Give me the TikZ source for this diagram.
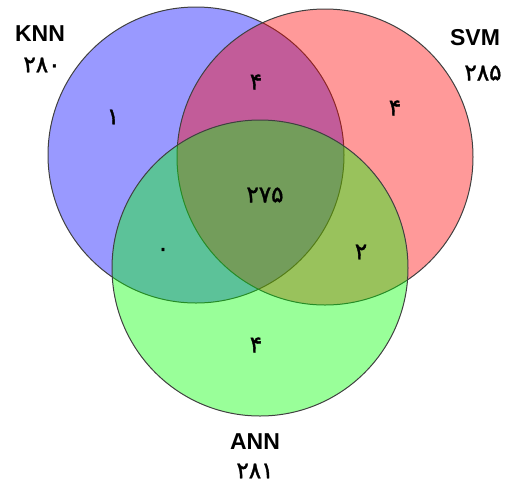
\documentclass[tikz,border=0pt]{standalone}
\usepackage{fontspec}
\setmainfont{Liberation Sans}
\newfontfamily\digitfont[FakeBold=1.6]{DejaVu Sans}
\begin{document}
\begin{tikzpicture}[x=1pt,y=-1pt,
  setcircle/.style={draw=black!75, line width=1pt, fill opacity=0.4, draw opacity=1},
  setname/.style={font=\fontsize{23}{23}\selectfont\bfseries, inner sep=0pt},
  setcount/.style={font=\digitfont\fontsize{23}{23}\selectfont, inner sep=0pt},
  regioncount/.style={font=\digitfont\fontsize{23}{23}\selectfont, inner sep=0pt}]
\useasboundingbox (0,0) rectangle (506,483);
\filldraw[setcircle, fill=blue] (196,155) circle (148);
\filldraw[setcircle, fill=red] (325,157) circle (148);
\filldraw[setcircle, fill=green] (260,268) circle (148);
\node[setname] (knn) at (40,34) {KNN};
\node[setcount] (knnc) at (42,65) {۲۸۰};
\node[setname] (svm) at (475,38) {SVM};
\node[setcount] (svmc) at (483,73) {۲۸۵};
\node[setname] (ann) at (255,442) {ANN};
\node[setcount] (annc) at (255,471) {۲۸۱};
\node[regioncount] (r1) at (113,117) {۱};
\node[regioncount] (r12) at (256,82) {۴};
\node[regioncount] (r2) at (395,108) {۴};
\node[regioncount] (r123) at (265,195) {۲۷۵};
\node[regioncount] (r13) at (163,252) {۰};
\node[regioncount] (r23) at (361,252) {۲};
\node[regioncount] (r3) at (256,345) {۴};
\end{tikzpicture}
\end{document}
